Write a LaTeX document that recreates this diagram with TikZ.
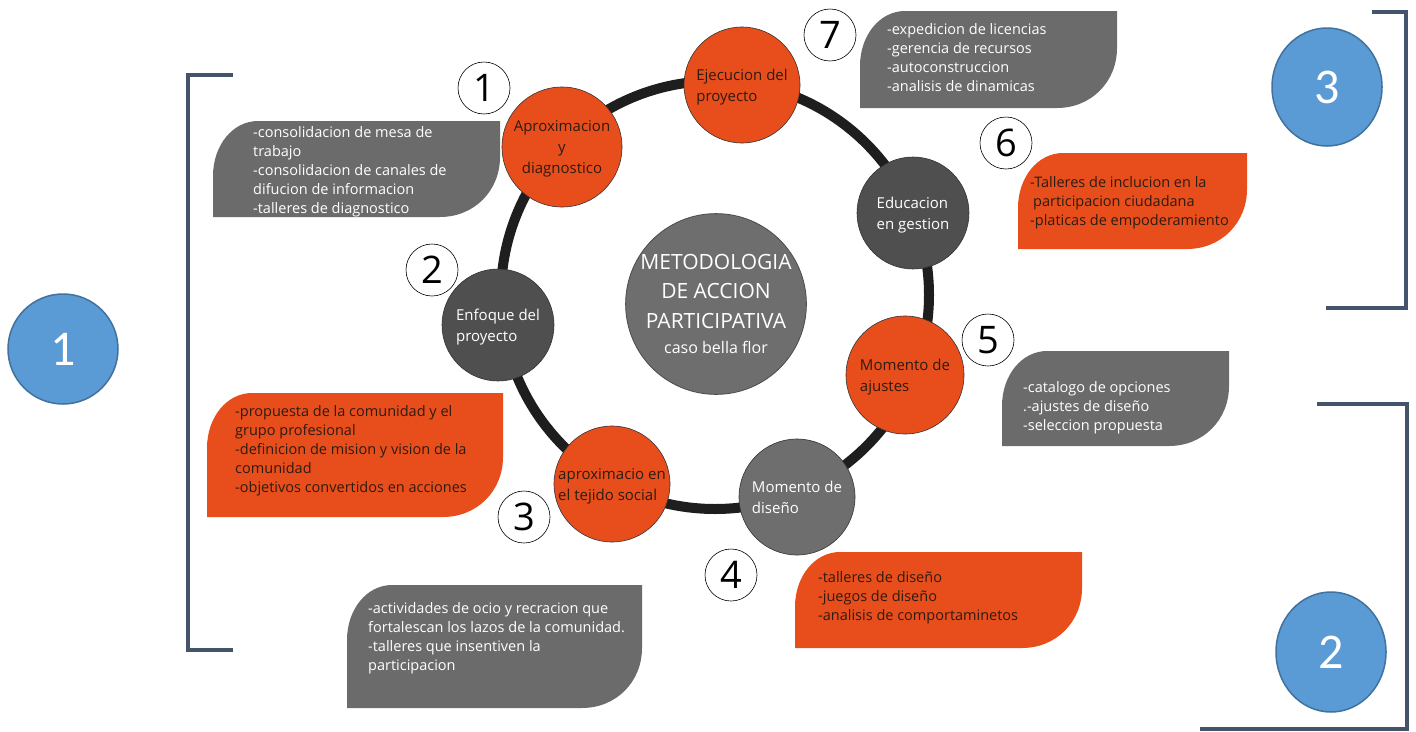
\documentclass[tikz,border=0pt]{standalone}
\usepackage{fontspec}
\setmainfont{Open Sans}
\newfontfamily\carlito{Carlito}
\usepackage{tikz}
\usetikzlibrary{shapes.geometric, positioning}
\definecolor{naranja}{HTML}{E84E1B}
\definecolor{grisbox}{HTML}{6B6B6B}
\definecolor{grisoscuro}{HTML}{4F4F4F}
\definecolor{grismedio}{HTML}{6E6E6E}
\definecolor{anillo}{HTML}{1E1E1E}
\definecolor{azul}{HTML}{5B9BD5}
\definecolor{azulborde}{HTML}{41719C}
\definecolor{corchete}{HTML}{44546A}
\definecolor{textooscuro}{HTML}{2E1B12}

% leaf shaped box: x1, y1, x2, y2, colour
\newcommand{\leafbox}[5]{%
  \fill[#5] (#1,#4) -- (#1,#2+55) .. controls (#1,#2+24) and (#1+20,#2) .. (#1+45,#2)
    -- (#3,#2) -- (#3,#4-60) .. controls (#3,#4-26) and (#3-26,#4) .. (#3-60,#4) -- cycle;}

\begin{document}
\begin{tikzpicture}[x=1pt, y=-1pt,
    etapa/.style={circle, draw=black!80, line width=0.6pt, fill=#1, minimum size=116pt, inner sep=0pt, align=left,
      font=\fontsize{15}{21}\selectfont, text depth=-4pt},
    numero/.style={circle, draw=black, line width=0.6pt, fill=white, minimum size=52pt, inner sep=0pt, font=\fontsize{38}{38}\selectfont},
    fase/.style={ellipse, draw=azulborde, line width=1.5pt, fill=azul, minimum width=110pt, minimum height=#1, inner sep=0pt, text=white, font=\carlito\fontsize{50}{50}\selectfont},
    lista/.style={anchor=north west, align=left, inner sep=0pt, font=\fontsize{14.5}{19}\selectfont, text=#1},
    llave/.style={draw=corchete, line width=3.5pt},
]
\useasboundingbox (0,0) rectangle (1416,731);

% brackets
\draw[llave] (233,75) -- (188,75) -- (188,650) -- (233,650);
\draw[llave] (1372,12) -- (1406,12) -- (1406,308) -- (1326,308);
\draw[llave] (1317,404) -- (1407,404) -- (1407,729) -- (1200,729);

\node[fase=110pt] (fase1) at (63,349) {1};
\node[fase=118pt] (fase3) at (1327,87) {3};
\node[fase=120pt] (fase2) at (1331,652) {2};

% leaf boxes
\leafbox{213}{121}{500}{217}{grisbox}
\leafbox{207}{393}{503}{517}{naranja}
\leafbox{347}{585}{642}{708}{grisbox}
\leafbox{795}{552}{1082}{648}{naranja}
\leafbox{1002}{351}{1229}{446}{grisbox}
\leafbox{1018}{153}{1247}{249}{naranja}
\leafbox{860}{11}{1117}{108}{grisbox}

\node[lista=white] (lista1) at (253,126) {-consolidacion de mesa de\\trabajo\\-consolidacion de canales de\\difucion de informacion\\-talleres de diagnostico};
\node[lista=textooscuro] (lista2) at (235,405) {-propuesta de la comunidad y el\\grupo profesional\\-definicion de mision y vision de la\\comunidad\\-objetivos convertidos en acciones};
\node[lista=white] (lista3) at (368,602) {-actividades de ocio y recracion que\\fortalescan los lazos de la comunidad.\\-talleres que insentiven la\\participacion};
\node[lista=textooscuro] (lista4) at (818,571) {-talleres de diseño\\-juegos de diseño\\-analisis de comportaminetos};
\node[lista=white] (lista5) at (1023,381) {-catalogo de opciones\\.-ajustes de diseño\\-seleccion propuesta};
\node[lista=textooscuro] (lista6) at (1030,176) {-Talleres de inclucion en la\\\hspace{3pt}participacion ciudadana\\-platicas de empoderamiento};
\node[lista=white] (lista7) at (887,23) {-expedicion de licencias\\-gerencia de recursos\\-autoconstruccion\\-analisis de dinamicas};

% ring and stages
\coordinate (centro) at (715,295);
\draw[anillo, line width=10pt] (centro) circle[radius=214];

\node[circle, draw=black!70, line width=0.8pt, fill=grismedio, minimum size=174pt, inner sep=0pt, text=white, align=center, font=\fontsize{21}{29.5}\selectfont] (metodo) at (716,304)
  {METODOLOGIA\\DE ACCION\\PARTICIPATIVA\\[-4pt]{\fontsize{16}{20}\selectfont caso bella flor}};

\node[etapa=naranja, text=textooscuro, minimum size=120pt, align=center] (aprox) at (562,147) {Aproximacion\\y\\diagnostico};
\node[etapa=naranja, text=textooscuro] (ejecucion) at (742,85) {Ejecucion del\\proyecto};
\node[etapa=grisoscuro, text=white, minimum size=112pt] (educacion) at (913,213) {Educacion\\en gestion};
\node[etapa=grisoscuro, text=white, minimum size=112pt] (enfoque) at (498,325) {Enfoque del\\proyecto};
\node[etapa=naranja, text=textooscuro, minimum size=118pt] (ajustes) at (905,375) {Momento de\\ajustes};
\node[etapa=grismedio, text=white] (diseno) at (797,497) {Momento de\\diseño};
\node[etapa=naranja, text=textooscuro] (tejido) at (612,484) {aproximacio en\\el tejido social};

% step numbers
\node[numero] (num1) at (484,88) {1};
\node[numero] (num2) at (432,270) {2};
\node[numero] (num3) at (524,517) {3};
\node[numero] (num4) at (731,575) {4};
\node[numero] (num5) at (988,340) {5};
\node[numero] (num6) at (1006,143) {6};
\node[numero] (num7) at (830,35) {7};

\end{tikzpicture}
\end{document}
